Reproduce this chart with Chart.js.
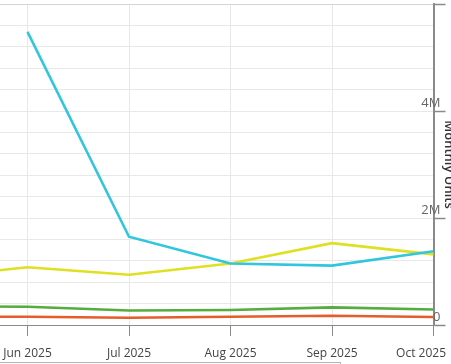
<!DOCTYPE html>
<html>
<head>
<meta charset="utf-8">
<script src="https://cdn.jsdelivr.net/npm/chart.js@4"></script>
<style>
  html, body { margin: 0; padding: 0; background: #fff; overflow: hidden; }
  body { width: 451px; height: 364px; position: relative; }
  #myChart { position: absolute; left: -114.5px; top: 0; }
  .scrollEdge { position: absolute; left: -1px; top: 362px; width: 340px; height: 6px; border: 1px solid #b4b4b4; background: #fafafa; }
</style>
</head>
<body>
<canvas id="myChart" width="571" height="364"></canvas>
<div class="scrollEdge"></div>
<script>
const months = ["May 2025", "Jun 2025", "Jul 2025", "Aug 2025", "Sep 2025", "Oct 2025"];
const cyanUnits = [null, 5480000, 1650000, 1150000, 1110000, 1380000];
const yellowUnits = [880000, 1080000, 940000, 1150000, 1530000, 1320000];
const greenUnits = [350000, 340000, 270000, 280000, 330000, 290000];
const redUnits = [155000, 155000, 136000, 155000, 174000, 150000];

const lineColors = ["#31c6de", "#dfe022", "#55ad3e", "#e45e2c"];
const axisGrey = "#8a8a8a";
const gridGrey = "#e8e8e8";

const makeSet = (label, values, color) => ({
  label: label,
  data: values,
  borderColor: color,
  backgroundColor: color,
  borderWidth: 2.6,
  pointRadius: 0,
  pointHoverRadius: 0,
  tension: 0,
  fill: false,
});

const config = {
  type: "line",
  data: {
    labels: months,
    datasets: [
      makeSet("Series 1", cyanUnits, lineColors[0]),
      makeSet("Series 2", yellowUnits, lineColors[1]),
      makeSet("Series 3", greenUnits, lineColors[2]),
      makeSet("Series 4", redUnits, lineColors[3]),
    ],
  },
  options: {
    responsive: false,
    animation: false,
    devicePixelRatio: 1,
    layout: { padding: { left: 40, top: 4, right: 0, bottom: 0 } },
    plugins: {
      legend: { display: false },
      title: { display: false },
      tooltip: { enabled: false },
    },
    scales: {
      x: {
        offset: false,
        grid: {
          color: gridGrey,
          tickColor: axisGrey,
          tickLength: 11,
        },
        border: { color: axisGrey, width: 1 },
        ticks: {
          autoSkip: false,
          maxRotation: 0,
          padding: 10,
          color: "#444",
          font: { family: "'Open Sans'", size: 12 },
          // last label is pulled left so it stays inside the window
          callback: (v, i) => (i === months.length - 1 ? months[i] + "\u00a0".repeat(8) : months[i]),
        },
        afterFit(scale) {
          scale.height = 39;
          scale.paddingLeft = 0;
          scale.paddingRight = 0;
        },
      },
      y: {
        position: "right",
        min: 0,
        max: 6000000,
        grid: {
          color: (ctx) => (ctx.tick && ctx.tick.value === 6000000 ? "#d4d4d4" : gridGrey),
          tickColor: (ctx) => (ctx.tick && ctx.tick.value % 2000000 === 0 ? axisGrey : "rgba(0,0,0,0)"),
          tickLength: 12,
          tickWidth: 1.5,
        },
        border: { color: axisGrey, width: 2 },
        ticks: {
          stepSize: 400000,
          autoSkip: false,
          mirror: true,
          padding: 7,
          labelOffset: -8,
          color: "#666",
          font: { family: "'Open Sans'", size: 13 },
          callback: (v) => {
            if (v % 2000000 !== 0 || v === 6000000) return "";
            return v === 0 ? "0" : v / 1000000 + "M";
          },
        },
        title: {
          display: true,
          text: "Monthly Units",
          color: "#333",
          padding: 0,
          font: { family: "'Open Sans'", size: 13, weight: "600" },
        },
        afterFit(scale) {
          scale.width = 23.5;
          scale.paddingTop = 0;
          scale.paddingBottom = 0;
        },
      },
    },
  },
};

new Chart(document.getElementById("myChart"), config);
</script>
</body>
</html>
